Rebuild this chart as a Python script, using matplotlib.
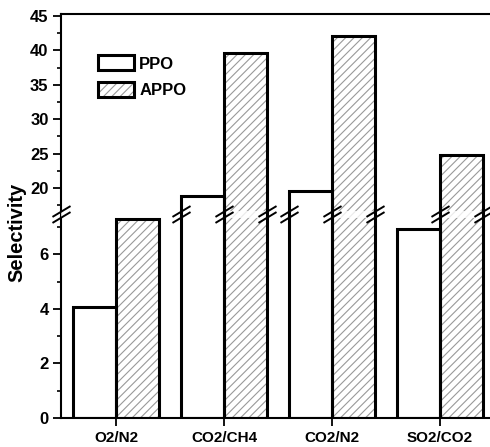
import matplotlib
matplotlib.use("Agg")
import matplotlib.pyplot as plt
from matplotlib.patches import Patch
from matplotlib.ticker import FixedLocator
import numpy as np

# data
gases = ["O2/N2", "CO2/CH4", "CO2/N2", "SO2/CO2"]
ppo = [4.08, 18.9, 19.6, 6.93]
appo = [7.28, 39.7, 42.1, 24.8]

# broken axis: lower part 0..7.35, upper part 16.66..45.3
low_top = 7.35
up_bot = 16.66
brk_vals = [-10, 0, low_top, up_bot, 45.3, 100]
brk_px = [-272.8, 0, 200.5, 207, 404, 404 + 54.7 * 6.88]


def fwd(y):
    return np.interp(y, brk_vals, brk_px)


def inv(p):
    return np.interp(p, brk_px, brk_vals)


plt.rcParams['hatch.color'] = '#999999'
plt.rcParams['hatch.linewidth'] = 0.8
plt.rcParams['font.family'] = ['Liberation Sans', 'DejaVu Sans']

fig = plt.figure(figsize=(4.9, 4.47), dpi=100)
ax = fig.add_axes([61 / 490, 29 / 447, 1 - 61 / 490, 404 / 447])
ax.set_yscale('function', functions=(fwd, inv))

x = np.arange(len(gases))
w = 0.4
# fills (hatch drawn with hatch.color), then outlines on top
ax.bar(x - w / 2, ppo, w, color='white', zorder=2)
ax.bar(x + w / 2, appo, w, color='white', hatch='////', zorder=2)
# fade the break band across the bars
ax.axhspan(low_top, up_bot, color='white', alpha=0.8, zorder=3, lw=0)
ax.bar(x - w / 2, ppo, w, fill=False, edgecolor='black', lw=2.2, zorder=4)
ax.bar(x + w / 2, appo, w, fill=False, edgecolor='black', lw=2.2, zorder=4)

# break marks on the axis and on bar edges crossing the gap
edges = [-0.509]
for i in range(len(gases)):
    if ppo[i] > up_bot:
        edges += [x[i] - w, x[i]]
    if appo[i] > up_bot:
        edges += [x[i], x[i] + w]
edges = sorted(set(edges))
mk = [(-1, -0.6), (1, 0.6)]
for yb in (low_top + 0.15, up_bot - 0.6):
    ax.plot(edges, [yb] * len(edges), linestyle='none', marker=mk,
            markersize=13, markeredgewidth=1.4, color='black',
            clip_on=False, zorder=6)

ax.set_xlim(-0.509, 3.463)
ax.set_ylim(0, 45.3)
ax.yaxis.set_major_locator(FixedLocator([0, 2, 4, 6, 20, 25, 30, 35, 40, 45]))
ax.yaxis.set_minor_locator(FixedLocator([1, 3, 5, 7, 17.5, 22.5, 27.5, 32.5, 37.5, 42.5]))
ax.set_yticklabels(['0', '2', '4', '6', '20', '25', '30', '35', '40', '45'])
ax.yaxis.set_minor_formatter(plt.NullFormatter())
ax.set_xticks(x)
ax.set_xticklabels(gases)

ax.tick_params(axis='x', which='major', direction='out', length=6, width=1.3,
               labelsize=11, pad=3)
ax.tick_params(axis='y', which='major', direction='out', length=6, width=1.3,
               labelsize=12, pad=3)
ax.tick_params(axis='y', which='minor', direction='out', length=3, width=1.2)
for lab in ax.get_xticklabels() + ax.get_yticklabels():
    lab.set_fontweight('bold')

ax.spines['right'].set_visible(False)
for s in ('left', 'bottom', 'top'):
    ax.spines[s].set_linewidth(1.5)

ax.set_ylabel('Selectivity', fontsize=14.5, fontweight='bold')
ax.yaxis.set_label_coords(-0.08, 0.46)

h_ppo = Patch(facecolor='white', edgecolor='black', lw=2.2)
h_appo = (Patch(facecolor='white', hatch='////'),
          Patch(fill=False, edgecolor='black', lw=2.2))
ax.legend([h_ppo, h_appo], ['PPO', 'APPO'], loc='upper left',
          bbox_to_anchor=(0.066, 0.918), frameon=False, borderpad=0,
          handlelength=2.2, handleheight=1.0, handletextpad=0.3,
          labelspacing=0.6, prop={'weight': 'bold', 'size': 12})

fig.savefig('out.png', dpi=100)
